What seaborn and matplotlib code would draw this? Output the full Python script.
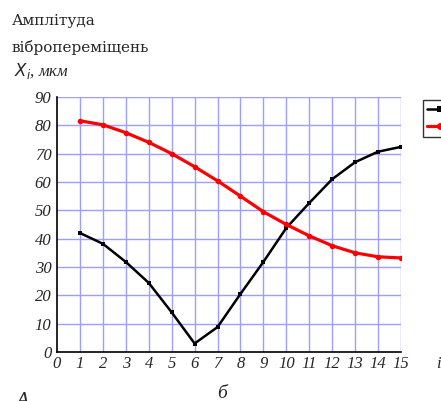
import matplotlib
matplotlib.use("Agg")
import matplotlib.pyplot as plt
import seaborn as sns
import pandas as pd
from matplotlib.lines import Line2D

i_vals = list(range(1, 16))
black_vals = [42, 38.2, 31.8, 24.4, 14, 3, 8.8, 20.5, 31.8, 43.8, 52.6, 61, 67, 70.7, 72.4]
red_vals = [81.6, 80.2, 77.4, 74, 70, 65.4, 60.4, 55, 49.5, 45, 41, 37.5, 35, 33.6, 33.2]
x_ticks = list(range(0, 16))
y_ticks = list(range(0, 100, 10))

sns.set_style("white")
plt.rcParams['font.family'] = ['Liberation Serif', 'DejaVu Serif']

df = pd.DataFrame({
    "i": i_vals * 2,
    "X": black_vals + red_vals,
    "s": ["1"] * len(i_vals) + ["2"] * len(i_vals),
})

fig = plt.figure(figsize=(4.41, 4.01), dpi=100)
ax = fig.add_axes([57/441, 49/401, (401-57)/441, (352-97)/401])

grid_c = (0.62, 0.62, 1.0)
ax.set_axisbelow(True)
for x in x_ticks[1:]:
    ax.axvline(x, color=grid_c, lw=1.0, zorder=0)
for y in y_ticks[1:]:
    ax.axhline(y, color=grid_c, lw=1.0, zorder=0)

sns.lineplot(data=df[df.s == "1"], x="i", y="X", ax=ax, color="black", lw=1.8,
             marker="s", markersize=3.5, markeredgewidth=0, legend=False)
sns.lineplot(data=df[df.s == "2"], x="i", y="X", ax=ax, color="#ff0000", lw=2.3,
             marker="o", markersize=4, markeredgewidth=0, legend=False)

ax.set_xlim(0, 15)
ax.set_ylim(0, 90)
ax.set_xticks(x_ticks)
ax.set_yticks(y_ticks)
ax.set_xticklabels([str(t) for t in x_ticks], fontstyle="italic", fontsize=12)
ax.set_yticklabels([str(t) for t in y_ticks], fontstyle="italic", fontsize=12)
ax.tick_params(axis="both", length=3, width=1, color="black", pad=1, direction="out")
ax.tick_params(axis="x", pad=0)
ax.set_xlabel("")
ax.set_ylabel("")
for side in ["top", "right"]:
    ax.spines[side].set_visible(False)
for side in ["left", "bottom"]:
    ax.spines[side].set_color("black")
    ax.spines[side].set_linewidth(1.2)

fig.text(12/441, 1 - 25/401, "Амплітуда", fontsize=11, family=["DejaVu Serif"], ha="left", va="baseline")
fig.text(12/441, 1 - 52/401, "вібропереміщень", fontsize=11, family=["DejaVu Serif"], ha="left", va="baseline")
fig.text(14/441, 1 - 76/401, r"$X_{i}$, мкм", fontsize=12, fontstyle="italic", ha="left", va="baseline")
fig.text(436/441, 1 - 368/401, "i", fontsize=12, fontstyle="italic", ha="left", va="baseline")
fig.text(222/441, 1 - 398/401, "б", fontsize=14, fontstyle="italic", ha="center", va="baseline")
fig.text(16/441, 1 - 405/401, "А", fontsize=14, fontstyle="italic", ha="left", va="baseline")

handles = [
    Line2D([], [], color="black", lw=1.8, marker="s", markersize=4, markeredgewidth=0),
    Line2D([], [], color="#ff0000", lw=2.3, marker="o", markersize=5, markeredgewidth=0),
]
leg = fig.legend(handles, ["", ""], loc="upper left", bbox_to_anchor=(417/441, 1 - 94/401),
                 frameon=True, fancybox=False, edgecolor="black", handlelength=2.0,
                 borderpad=0.3, labelspacing=0.4, handletextpad=0.2, fontsize=9)
leg.get_frame().set_linewidth(1.0)

fig.savefig("out.png", dpi=100)
